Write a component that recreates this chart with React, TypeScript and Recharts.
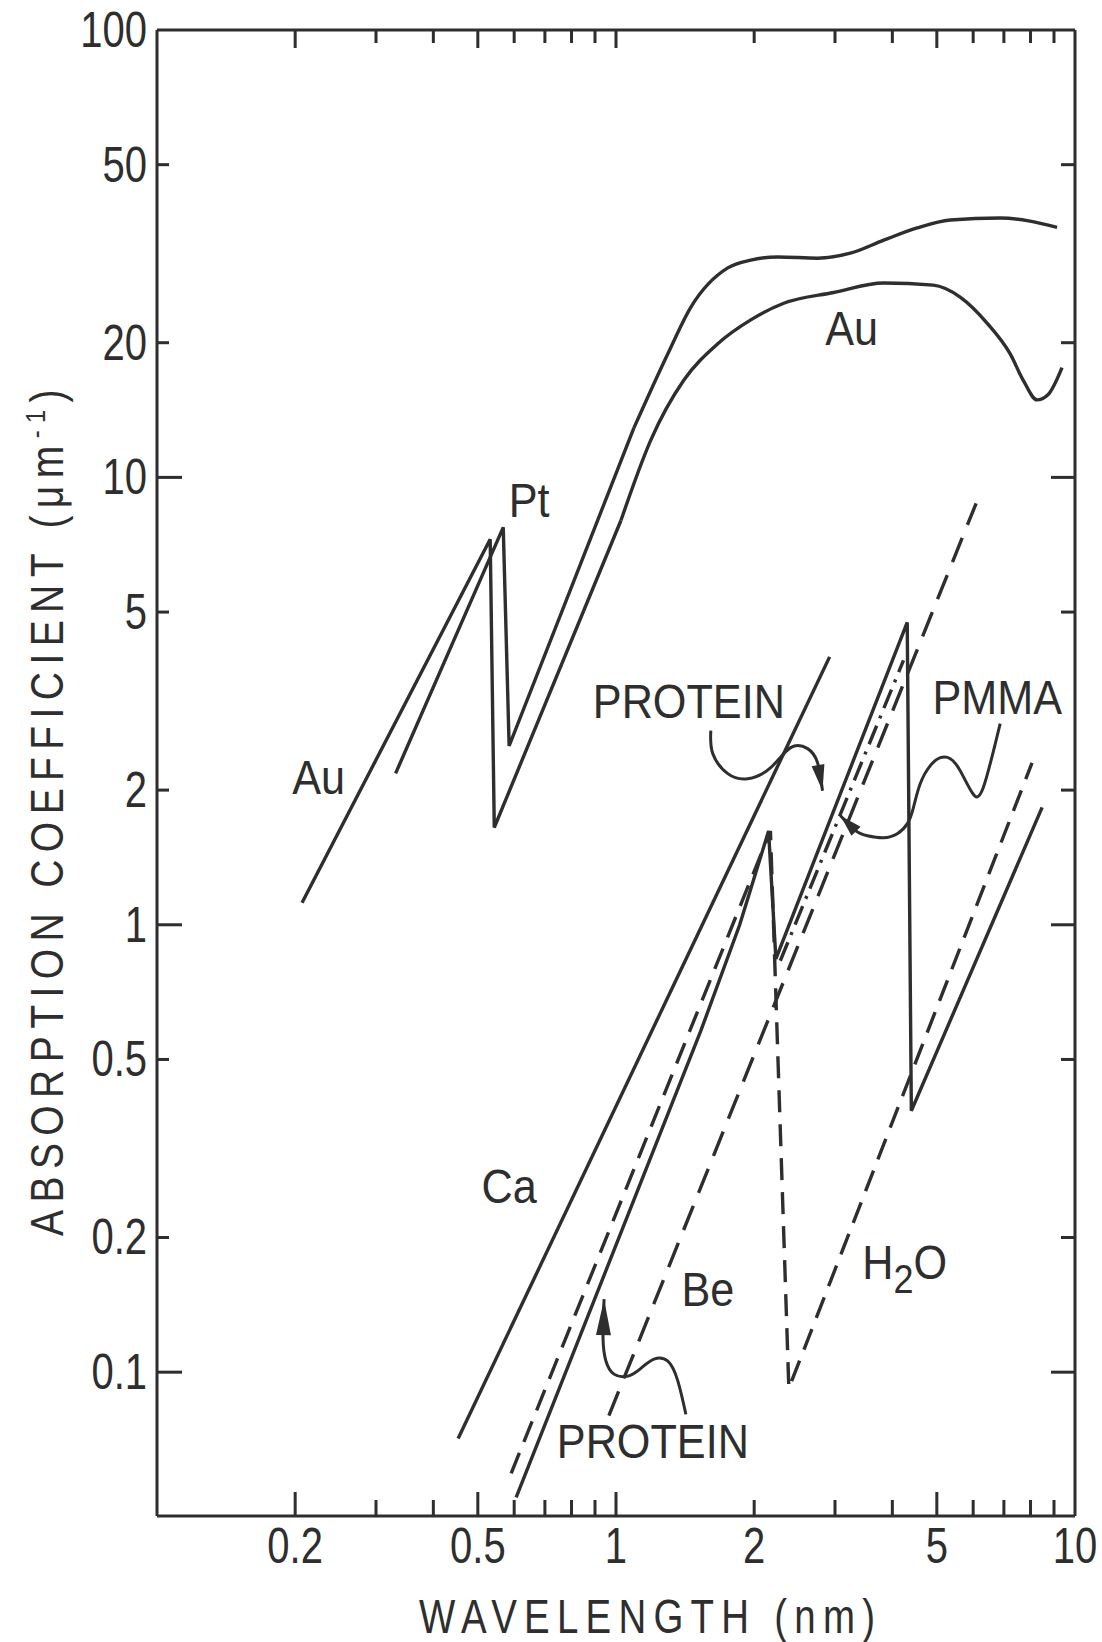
import React from 'react'
import { LineChart, Line, XAxis, YAxis, ReferenceDot } from 'recharts'

const INK = '#2e2e2e'
const FONT = "'Liberation Sans', Arial, Helvetica, sans-serif"

// both axes logarithmic: wavelength (nm) and absorption coefficient (um^-1)
const xDomain = [0.1, 10]
const yDomain = [0.0477, 100]
const xTicks = [0.2, 0.3, 0.4, 0.5, 0.6, 0.7, 0.8, 0.9, 1, 2, 3, 4, 5, 6, 7, 8, 9, 10]
const xTickLabels = [0.2, 0.5, 1, 2, 5, 10]
const xLongTicks = [0.2, 0.5, 1, 5]
const yTicks = [0.1, 0.2, 0.5, 1, 2, 5, 10, 20, 50, 100]
const yLongTicks = [0.1, 1, 10]

// curves, [wavelength, coefficient]
const auEdge = [[0.207, 1.12], [0.532, 7.27], [0.543, 1.65], [1.025, 8.01]]
const auShoulder = [
  [1.025, 8.01], [1.19, 12.1], [1.406, 16.5], [1.666, 19.9], [1.966, 22.5], [2.32, 24.5],
  [2.98, 25.9], [3.83, 27.2], [4.91, 26.9], [5.62, 25.3], [6.44, 22.1], [7.22, 18.9],
  [7.71, 16.5], [8.27, 14.9], [8.73, 15.3], [9.37, 17.6],
]
const ptEdge = [[0.331, 2.18], [0.568, 7.73], [0.585, 2.51], [1.094, 12.9]]
const ptShoulder = [
  [1.094, 12.9], [1.297, 18.9], [1.455, 24.0], [1.752, 29.4], [1.966, 30.6], [2.25, 31.1],
  [2.75, 30.9], [3.24, 31.7], [3.83, 33.9], [4.53, 36.1], [5.35, 37.6], [6.87, 38.0], [9.14, 36.2],
]
const calcium = [[0.453, 0.0711], [2.92, 3.97]]
const protein = [
  [0.606, 0.0525], [1.53, 0.579], [1.86, 1.0], [2.15, 1.62], [2.23, 0.839], [4.31, 4.74],
  [4.4, 0.384], [8.48, 1.83],
]
const pmma = [[2.28, 0.831], [4.23, 3.9]]
const water = [[0.591, 0.0594], [2.17, 1.62], [2.38, 0.092], [8.06, 2.3]]
const beryllium = [[0.965, 0.08], [6.09, 8.75]]

// pointer arrows, same units
const proteinArrowUpper = [
  [1.609, 2.716], [1.625, 2.413], [1.752, 2.177], [1.936, 2.121], [2.173, 2.245],
  [2.401, 2.489], [2.615, 2.476], [2.749, 2.303], [2.818, 1.994],
]
const pmmaArrow = [
  [6.87, 2.817], [6.31, 2.025], [5.97, 1.974], [5.62, 2.211], [5.35, 2.351], [5.09, 2.363],
  [4.84, 2.269], [4.6, 2.067], [4.445, 1.826], [4.313, 1.683], [4.1, 1.598], [3.825, 1.565],
  [3.53, 1.581], [3.325, 1.623], [3.084, 1.753],
]
const proteinArrowLower = [
  [1.42, 0.0805], [1.364, 0.0955], [1.297, 0.1058], [1.21, 0.1069], [1.133, 0.102],
  [1.062, 0.098], [0.99, 0.099], [0.951, 0.1058], [0.937, 0.119], [0.942, 0.1456],
]

const curveLabels = [
  { text: 'Au', x: 0.225, y: 1.963 },
  { text: 'Pt', x: 0.647, y: 8.14 },
  { text: 'Au', x: 3.26, y: 19.74 },
  { text: 'PROTEIN', x: 1.441, y: 2.904 },
  { text: 'PMMA', x: 6.77, y: 2.965 },
  { text: 'Ca', x: 0.585, y: 0.2388 },
  { text: 'Be', x: 1.585, y: 0.1406 },
  { text: 'H2O', x: 3.44, y: 0.1614 },
  { text: 'PROTEIN', x: 1.203, y: 0.0643 },
]

const toPoints = (pairs: number[][]) => pairs.map(([x, y]) => ({ x, y }))

const curves = [
  { key: 'auEdge', data: auEdge, type: 'linear', dash: undefined },
  { key: 'auShoulder', data: auShoulder, type: 'monotone', dash: undefined },
  { key: 'ptEdge', data: ptEdge, type: 'linear', dash: undefined },
  { key: 'ptShoulder', data: ptShoulder, type: 'monotone', dash: undefined },
  { key: 'calcium', data: calcium, type: 'linear', dash: undefined },
  { key: 'protein', data: protein, type: 'linear', dash: undefined },
  { key: 'pmma', data: pmma, type: 'linear', dash: '20 8 3 8' },
  { key: 'water', data: water, type: 'linear', dash: '22 12' },
  { key: 'beryllium', data: beryllium, type: 'linear', dash: '26 14' },
]

const arrows = [
  { key: 'arrowProteinUpper', data: proteinArrowUpper, angle: 80, len: 26, wid: 13 },
  { key: 'arrowPmma', data: pmmaArrow, angle: 225, len: 22, wid: 13 },
  { key: 'arrowProteinLower', data: proteinArrowLower, angle: 271, len: 36, wid: 15 },
]

const W = 1102
const H = 1642
const MARGIN = { top: 29, right: 26, bottom: 125, left: 156 }

const fmt = (v: number) => String(v)

// inward tick marks are small filled bars
function TickBar({ x, y, w, h }: { x: number; y: number; w: number; h: number }) {
  return <rect x={Math.min(x, x + w)} y={Math.min(y, y + h)} width={Math.abs(w)} height={Math.abs(h)} fill={INK} />
}

function BottomTick(props: any) {
  const x = Number(props.x)
  const y = Number(props.y)
  const v = Number(props.payload.value)
  const len = xLongTicks.includes(v) ? 24 : 16
  return (
    <g>
      {v < 10 && <TickBar x={x - 1.5} y={y} w={3} h={-len} />}
      {xTickLabels.includes(v) && (
        <text
          transform={`translate(${x},${y + 47}) scale(0.8,1)`}
          textAnchor="middle"
          fontSize={50}
          fontFamily={FONT}
          fill={INK}
        >
          {fmt(v)}
        </text>
      )}
    </g>
  )
}

function TopTick(props: any) {
  const x = Number(props.x)
  const y = Number(props.y)
  const v = Number(props.payload.value)
  if (v >= 10) return <g />
  const len = xLongTicks.includes(v) ? 18 : 13
  return (
    <g>
      <TickBar x={x - 1.5} y={y} w={3} h={len} />
    </g>
  )
}

function LeftTick(props: any) {
  const x = Number(props.x)
  const y = Number(props.y)
  const v = Number(props.payload.value)
  const len = yLongTicks.includes(v) ? 25 : 12
  return (
    <g>
      {v < 100 && <TickBar x={x} y={y - 1.5} w={len} h={3} />}
      <text
        transform={`translate(${x - 10},${y + 17}) scale(0.8,1)`}
        textAnchor="end"
        fontSize={50}
        fontFamily={FONT}
        fill={INK}
      >
        {fmt(v)}
      </text>
    </g>
  )
}

function RightTick(props: any) {
  const x = Number(props.x)
  const y = Number(props.y)
  const v = Number(props.payload.value)
  if (v >= 100) return <g />
  const len = yLongTicks.includes(v) ? 24 : 14
  return (
    <g>
      <TickBar x={x} y={y - 1.5} w={-len} h={3} />
    </g>
  )
}

function arrowHead(angle: number, len: number, wid: number, last: number) {
  return (p: any) => {
    if (p.index !== last) return <g key={`dot-${p.index}`} />
    const a = (angle * Math.PI) / 180
    const dx = Math.cos(a)
    const dy = Math.sin(a)
    const bx = p.cx - dx * len
    const by = p.cy - dy * len
    const pts = [
      [p.cx, p.cy],
      [bx - (dy * wid) / 2, by + (dx * wid) / 2],
      [bx + (dy * wid) / 2, by - (dx * wid) / 2],
    ]
    return <polygon key={`dot-${p.index}`} points={pts.map((q) => q.join(',')).join(' ')} fill={INK} />
  }
}

function CurveLabel({ cx, cy, text }: { cx?: number; cy?: number; text: string }) {
  if (cx == null || cy == null) return <g />
  if (text === 'H2O') {
    return (
      <text transform={`translate(${cx},${cy}) scale(0.9,1)`} fontSize={48} fontFamily={FONT} fill={INK}>
        H
        <tspan dy={14} fontSize={40}>2</tspan>
        <tspan dy={-14}>O</tspan>
      </text>
    )
  }
  return (
    <text
      transform={`translate(${cx},${cy}) scale(0.9,1)`}
      textAnchor="middle"
      fontSize={48}
      fontFamily={FONT}
      fill={INK}
    >
      {text}
    </text>
  )
}

const frame = { stroke: INK, strokeWidth: 3 }

export default function App() {
  return (
    <div style={{ position: 'absolute', left: 0, top: 0, width: W, height: H, background: '#fff' }}>
      <LineChart width={W} height={H} margin={MARGIN}>
        <XAxis
          dataKey="x"
          type="number"
          scale="log"
          domain={xDomain}
          allowDataOverflow
          ticks={xTicks}
          interval={0}
          tick={(p: any) => <BottomTick {...p} />}
          tickLine={false}
          tickSize={0}
          tickMargin={0}
          height={1}
          axisLine={frame}
        />
        <XAxis
          xAxisId="top"
          orientation="top"
          dataKey="x"
          type="number"
          scale="log"
          domain={xDomain}
          allowDataOverflow
          ticks={xTicks}
          interval={0}
          tick={(p: any) => <TopTick {...p} />}
          tickLine={false}
          tickSize={0}
          tickMargin={0}
          height={1}
          axisLine={frame}
        />
        <YAxis
          type="number"
          scale="log"
          domain={yDomain}
          allowDataOverflow
          ticks={yTicks}
          interval={0}
          tick={(p: any) => <LeftTick {...p} />}
          tickLine={false}
          tickSize={0}
          tickMargin={0}
          width={1}
          axisLine={frame}
        />
        <YAxis
          yAxisId="right"
          orientation="right"
          type="number"
          scale="log"
          domain={yDomain}
          allowDataOverflow
          ticks={yTicks}
          interval={0}
          tick={(p: any) => <RightTick {...p} />}
          tickLine={false}
          tickSize={0}
          tickMargin={0}
          width={1}
          axisLine={frame}
        />

        {curves.map((c) => (
          <Line
            key={c.key}
            data={toPoints(c.data)}
            dataKey="y"
            type={c.type as any}
            stroke={INK}
            strokeWidth={3.4}
            strokeDasharray={c.dash}
            strokeLinejoin="miter"
            dot={false}
            activeDot={false}
            isAnimationActive={false}
          />
        ))}

        {arrows.map((a) => (
          <Line
            key={a.key}
            data={toPoints(a.data)}
            dataKey="y"
            type="natural"
            stroke={INK}
            strokeWidth={3}
            dot={arrowHead(a.angle, a.len, a.wid, a.data.length - 1)}
            activeDot={false}
            isAnimationActive={false}
          />
        ))}

        {curveLabels.map((l, i) => (
          <ReferenceDot
            key={`lbl-${i}`}
            x={l.x}
            y={l.y}
            r={0}
            ifOverflow="visible"
            shape={(p: any) => <CurveLabel cx={p.cx} cy={p.cy} text={l.text} />}
          />
        ))}
      </LineChart>

      <svg width={W} height={H} style={{ position: 'absolute', left: 0, top: 0, pointerEvents: 'none' }}>
        <text
          transform="translate(647,1633) scale(0.8,1)"
          textAnchor="middle"
          fontSize={48}
          fontFamily={FONT}
          fill={INK}
          textLength={570}
          lengthAdjust="spacing"
        >
          WAVELENGTH (nm)
        </text>
        <text
          transform="translate(63,1236) rotate(-90) scale(0.85,1)"
          fontSize={46}
          fontFamily={FONT}
          fill={INK}
          textLength={996}
          lengthAdjust="spacing"
        >
          ABSORPTION COEFFICIENT (μm
          <tspan dy={-18} fontSize={28}>-1</tspan>
          <tspan dy={18}>)</tspan>
        </text>
      </svg>
    </div>
  )
}
